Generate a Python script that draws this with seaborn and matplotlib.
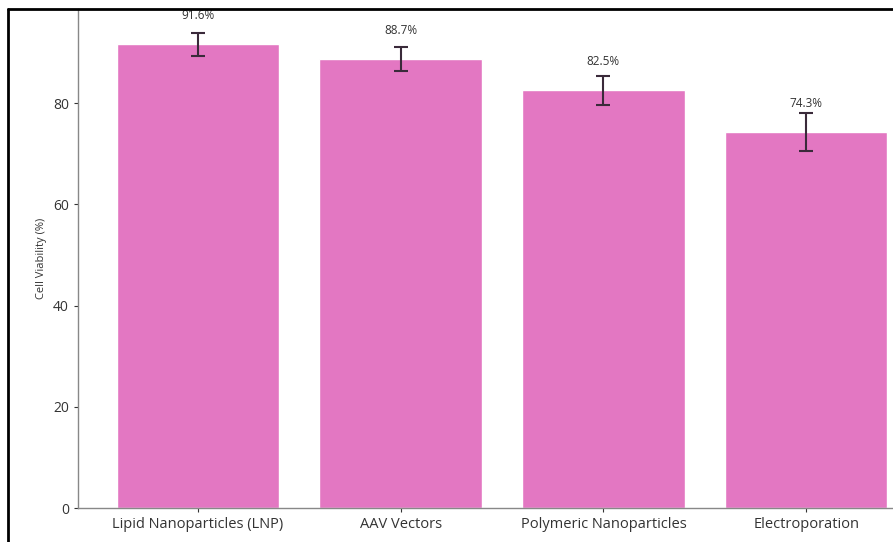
import matplotlib
matplotlib.use("Agg")
import matplotlib.pyplot as plt
import seaborn as sns
import pandas as pd
from matplotlib.lines import Line2D

methods = ["Lipid Nanoparticles (LNP)", "AAV Vectors", "Polymeric Nanoparticles", "Electroporation"]
viability = [91.6, 88.7, 82.5, 74.3]
viability_err = [2.3, 2.4, 2.9, 3.8]

df = pd.DataFrame({"Method": methods, "Viability": viability})

sns.set_style("white")
plt.rcParams["font.family"] = ["Open Sans", "DejaVu Sans"]

fig = plt.figure(figsize=(8.93, 5.42), dpi=100)
ax = fig.add_axes([78 / 893, 34 / 542, 848 / 893, 499 / 542])

sns.barplot(data=df, x="Method", y="Viability", color="#e377c2", saturation=1,
            width=0.8, errorbar=None, ax=ax)
ax.errorbar(range(len(methods)), viability, yerr=viability_err, fmt="none",
            ecolor="#3a2a3a", elinewidth=1.5, capsize=5, capthick=1.5)

for i, v in enumerate(viability):
    ax.text(i, v + 4.4, f"{v}%", ha="center", va="bottom", fontsize=8.5, color="#333333")

ax.set_xlim(-0.59, 3.59)
ax.set_ylim(0, 98.6)
ax.set_xlabel("")
ax.set_ylabel("Cell Viability (%)", fontsize=8, color="#333333")
ax.tick_params(axis="x", labelsize=10.5, colors="#333333", length=3, bottom=True)
ax.tick_params(axis="y", labelsize=10, colors="#333333", length=3, left=True)
for s in ["left", "bottom"]:
    ax.spines[s].set_color("#888888")
    ax.spines[s].set_linewidth(1.0)
sns.despine(ax=ax)

# frame around the picture (left and top)
fig.add_artist(Line2D([8 / 893, 8 / 893], [0, 1 - 9 / 542], color="black", lw=2, transform=fig.transFigure))
fig.add_artist(Line2D([8 / 893, 1], [1 - 9 / 542, 1 - 9 / 542], color="black", lw=2, transform=fig.transFigure))

fig.savefig("out.png", dpi=100)
